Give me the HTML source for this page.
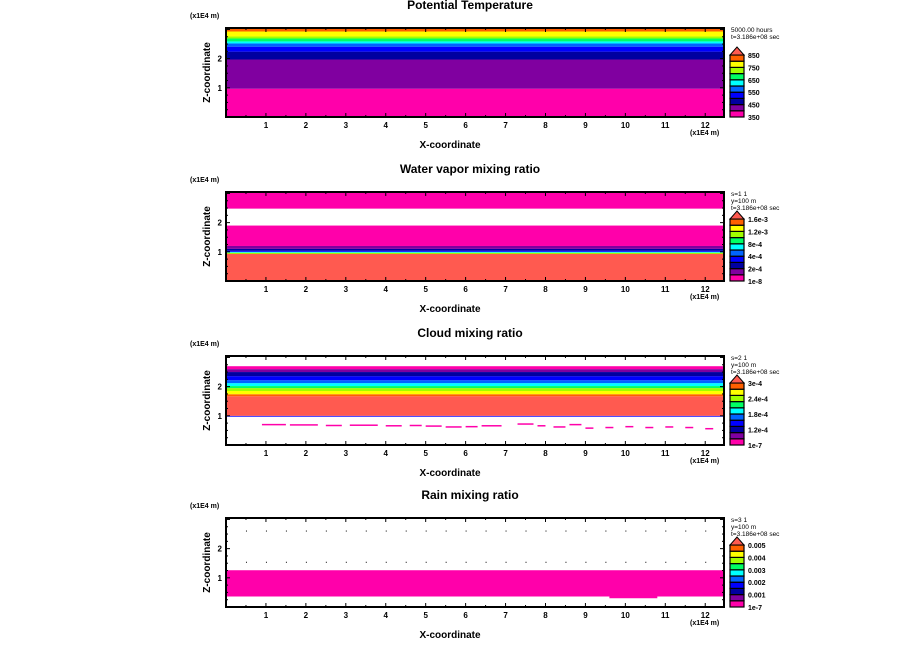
<!DOCTYPE html>
<html><head><meta charset="utf-8">
<style>
html,body{margin:0;padding:0;background:#fff;}
svg{display:block;font-family:"Liberation Sans",sans-serif;}
</style></head>
<body>
<svg id="fig" width="904" height="654" viewBox="0 0 904 654"></svg>
<script>
// ---- data ----
const panelTitles = ["Potential Temperature","Water vapor mixing ratio","Cloud mixing ratio","Rain mixing ratio"];
const xTicks = [1,2,3,4,5,6,7,8,9,10,11,12];
const zTicks = [1,2];
const palette = ["#ff00aa","#8000a0","#0000a0","#0000ff","#0064ff","#00ffff","#00ff64","#a0ff00","#ffff00","#ff6000"];
const legendLabels = [
  ["350","450","550","650","750","850"],
  ["1e-8","2e-4","4e-4","8e-4","1.2e-3","1.6e-3"],
  ["1e-7","1.2e-4","1.8e-4","2.4e-4","3e-4"],
  ["1e-7","0.001","0.002","0.003","0.004","0.005"]
];
const legendHeader = [
  ["5000.00 hours","t=3.186e+08 sec"],
  ["s=1 1","y=100 m","t=3.186e+08 sec"],
  ["s=2 1","y=100 m","t=3.186e+08 sec"],
  ["s=3 1","y=100 m","t=3.186e+08 sec"]
];
// bands: [zLow, zHigh, color]
const bands1 = [[0,0.97,"#ff00aa"],[0.97,1.97,"#8000a0"],[1.97,2.24,"#0000a0"],[2.24,2.41,"#0000ff"],[2.41,2.52,"#0064ff"],[2.52,2.59,"#00ffff"],[2.59,2.69,"#00ff64"],[2.69,2.76,"#a0ff00"],[2.76,2.93,"#ffff00"],[2.93,3.07,"#ff6000"]];
const bands2 = [[0,0.95,"#ff5a50"],[0.93,0.97,"#a0ff00"],[0.97,1.0,"#00ffff"],[1.0,1.04,"#0000ff"],[1.04,1.1,"#0000a0"],[1.1,1.2,"#8000a0"],[1.2,1.9,"#ff00aa"],[2.48,3.07,"#ff00aa"]];
const bands3 = [[0.97,1.0,"#0000ff"],[1.0,1.67,"#ff5a50"],[1.67,1.74,"#ff6000"],[1.74,1.85,"#ffff00"],[1.85,1.95,"#a0ff00"],[1.95,2.02,"#00ff64"],[2.02,2.12,"#00ffff"],[2.12,2.22,"#0064ff"],[2.22,2.36,"#0000ff"],[2.36,2.5,"#0000a0"],[2.5,2.6,"#8000a0"],[2.6,2.7,"#ff00aa"]];
const cloudX0 = [0.9,1.6,2.5,3.1,4.0,4.6,5.0,5.5,6.0,6.4,7.3,7.8,8.2,8.6,9.0,9.5,10.0,10.5,11.0,11.5,12.0];
const cloudX1 = [1.5,2.3,2.9,3.8,4.4,4.9,5.4,5.9,6.3,6.9,7.7,8.0,8.5,8.9,9.2,9.7,10.2,10.7,11.2,11.7,12.2];
const cloudZ  = [0.7,0.69,0.67,0.68,0.66,0.67,0.65,0.62,0.63,0.66,0.72,0.66,0.62,0.7,0.58,0.6,0.63,0.6,0.62,0.6,0.56];
const bands4 = [[0.36,1.26,"#ff00aa"],[0.3,0.36,"#ff00aa"]];
const bands4X = [[0,12.47],[9.6,10.8]];
const allBands = [bands1,bands2,bands3,bands4];

// ---- geometry ----
const NS="http://www.w3.org/2000/svg";
const svg=document.getElementById('fig');
const PL=226, PR=724, PH=89, XMAX=12.47, ZMAX=3.05;
const panelTops=[28,192,356,518];
function sx(x){return PL+x/XMAX*(PR-PL);}
function sz(top,z){return top+PH-z/ZMAX*PH;}
function mk(tag,attrs,parent){const e=document.createElementNS(NS,tag);for(const k in attrs)e.setAttribute(k,attrs[k]);(parent||svg).appendChild(e);return e;}
function txt(x,y,s,size,anchor,parent,weight){const t=mk('text',{x:x,y:y,'font-size':size,'text-anchor':anchor||'start','font-weight':weight||'bold',fill:'#000'},parent);t.textContent=s;return t;}

panelTops.forEach((top,pi)=>{
  const g=mk('g',{});
  
  
  const tt=txt(470,10,panelTitles[pi],12,'middle',g);
  tt.setAttribute('y',top-19);
  
  
  const u=txt(190,top-10,'(x1E4 m)',7,'start',g);
  
  
  const bg=mk('g',{},g);
  
  
  allBands[pi].forEach((b,bi)=>{
    const y1=sz(top,Math.min(b[1],ZMAX)), y0=sz(top,b[0]);
    const xr = pi===3 ? bands4X[bi] : [0,XMAX];
    const r=mk('rect',{x:sx(xr[0]),y:y1,width:sx(xr[1])-sx(xr[0]),height:y0-y1,fill:b[2]},bg);
    
    
  });
  if(pi===2){
    cloudX0.forEach((x0,i)=>{
      const r=mk('rect',{x:sx(x0),y:sz(top,cloudZ[i])-0.7,width:sx(cloudX1[i])-sx(x0),height:1.5,fill:'#ff00aa'},bg);
      
      
    });
  }
  if(pi===3){
    for(let x=0.5;x<12.4;x+=0.5){[1.55,2.62].forEach(z=>{mk('rect',{x:sx(x),y:sz(top,z),width:1,height:1,fill:'#000'},g);});}
  }
  const f=mk('rect',{x:PL,y:top,width:PR-PL,height:PH,fill:'none',stroke:'#000','stroke-width':2},g);
  
  
  for(let x=0.5;x<XMAX;x+=0.5){
    const major=Number.isInteger(x), l=major?4:2;
    mk('line',{x1:sx(x),x2:sx(x),y1:top+PH,y2:top+PH-l,stroke:'#000'},g);
    mk('line',{x1:sx(x),x2:sx(x),y1:top,y2:top+l,stroke:'#000'},g);
  }
  xTicks.forEach(x=>{const t=txt(sx(x),top+PH+11,String(x),8,'middle',g);
    
    });
  for(let z=0.25;z<ZMAX;z+=0.25){
    const major=Math.abs(z-Math.round(z))<1e-6, l=major?4:2;
    mk('line',{x1:PL,x2:PL+l,y1:sz(top,z),y2:sz(top,z),stroke:'#000'},g);
    mk('line',{x1:PR,x2:PR-l,y1:sz(top,z),y2:sz(top,z),stroke:'#000'},g);
  }
  zTicks.forEach(z=>{const t=txt(PL-4,sz(top,z)+3,String(z),8,'end',g);
    
    });
  const xu=txt(690,top+PH+18,'(x1E4 m)',7,'start',g);
  
  
  const xl=txt(450,top+PH+31,'X-coordinate',10,'middle',g);
  
  
  const yl=txt(0,0,'Z-coordinate',10,'middle',g);
  yl.setAttribute('transform','translate(210,'+(top+PH/2)+') rotate(-90)');
  
  
  const lg=mk('g',{},g);
  
  
  legendHeader[pi].forEach((s,i)=>{txt(731,top+4+i*7,s,6.5,'start',lg,'normal');});
  const LB=top+PH, LT=top+27, n=palette.length, bh=(LB-LT)/n;
  palette.forEach((c,i)=>{
    const r=mk('rect',{x:730,y:LB-(i+1)*bh,width:14,height:bh,fill:c,stroke:'#000','stroke-width':1.2},lg);
    
    
  });
  mk('polygon',{points:`730,${LT} 744,${LT} 737,${LT-8}`,fill:'#ff5a50',stroke:'#000'},lg);
  const labs=legendLabels[pi], step=(LB-LT)/(labs.length-1);
  labs.forEach((s,i)=>{const t=txt(748,LB-i*step+3,s,7,'start',lg);
    
    });
});
</script>
</body></html>
